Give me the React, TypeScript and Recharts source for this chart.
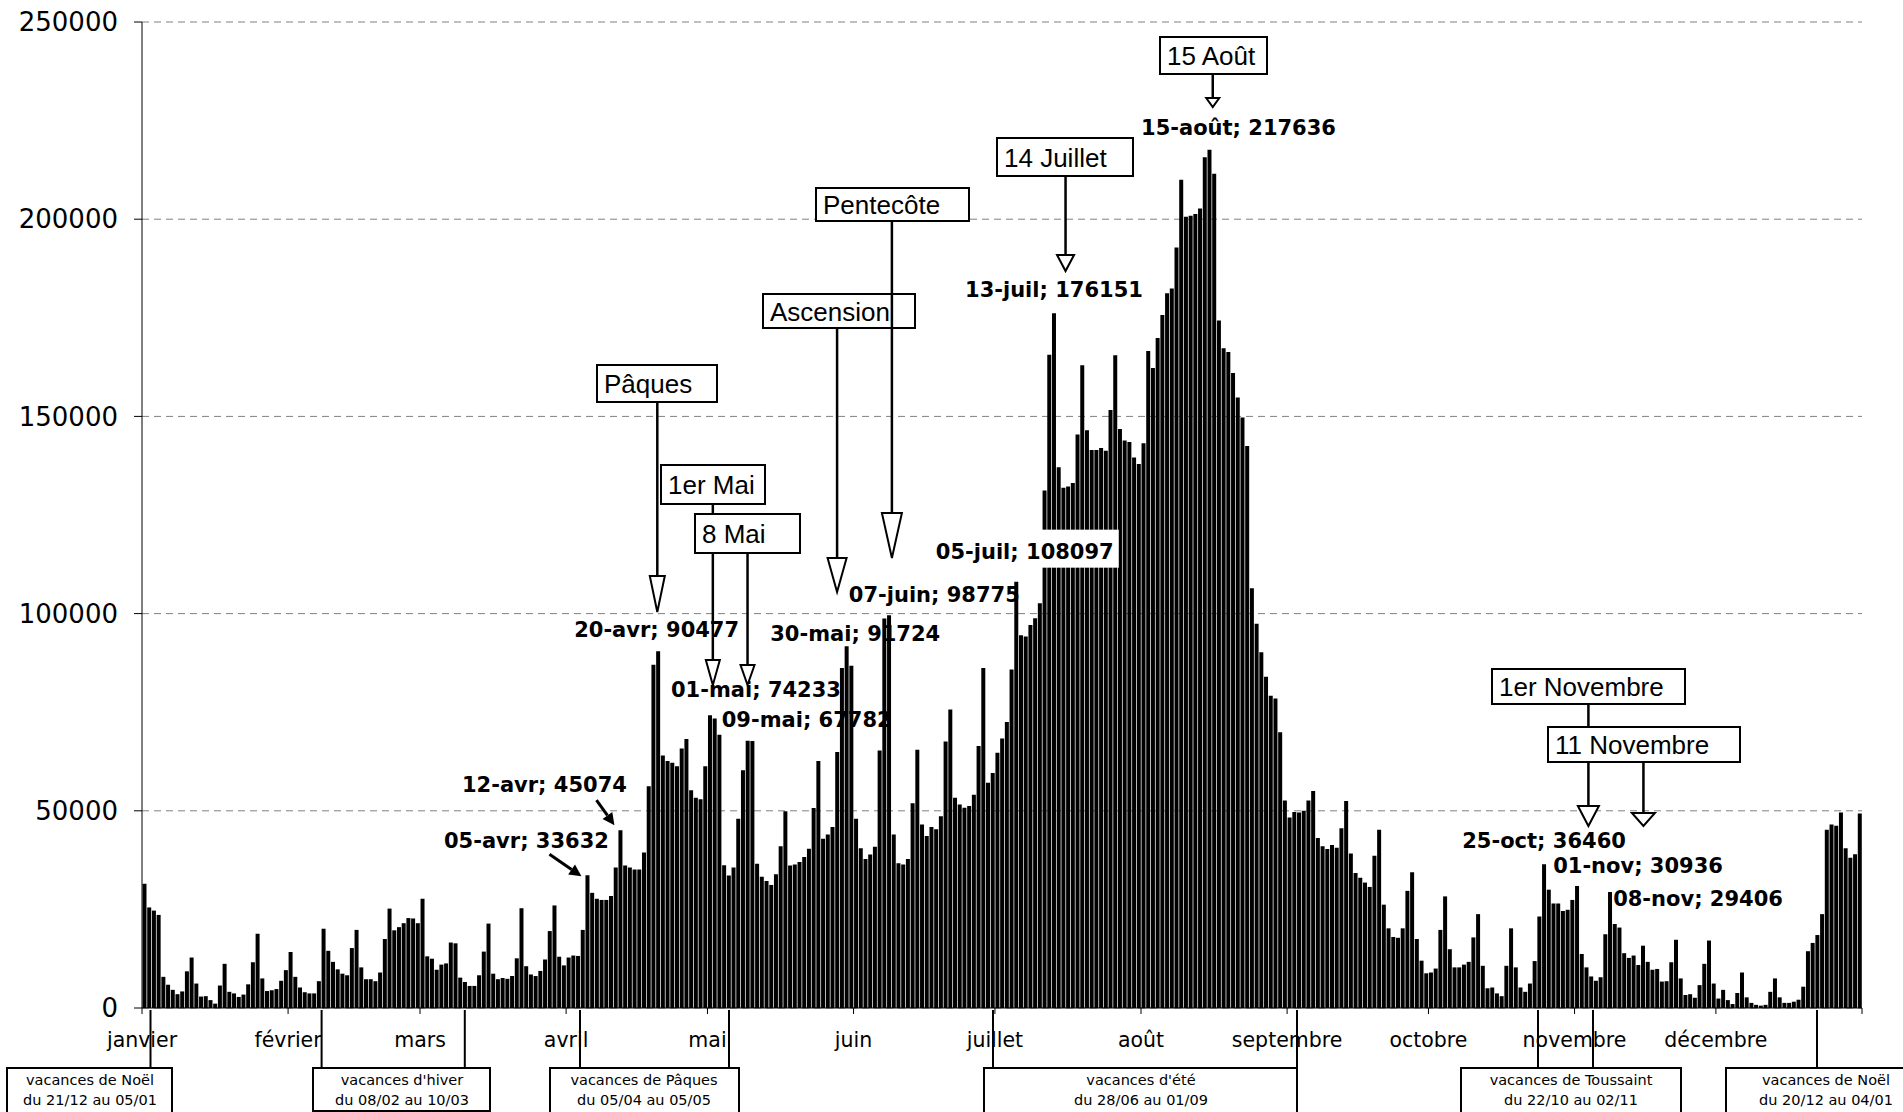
import React from 'react';
import { BarChart, Bar, XAxis, YAxis, CartesianGrid, LabelList } from 'recharts';

// fréquentation journalière (un tableau par mois)
const jan = [31500, 25500, 24700, 23600, 7900, 5900, 4600, 3500, 4200, 9300, 12800, 6200, 2900, 3000, 2000, 1100, 5700, 11200, 4100, 3700, 2800, 3400, 6000, 11600, 18800, 7500, 4300, 4500, 4800, 6900, 9600];
const feb = [14200, 7900, 5200, 4000, 3700, 3700, 6800, 20100, 14500, 11700, 9800, 8700, 8300, 15200, 19800, 10300, 7300, 7300, 6800, 9000, 17500, 25200, 19700, 20500, 21500, 22800, 22700, 21500];
const mar = [27700, 13100, 12500, 9700, 11000, 11300, 16600, 16400, 7700, 6600, 5600, 5600, 8300, 14300, 21400, 8700, 7300, 7600, 7400, 8100, 12600, 25300, 10600, 8500, 8100, 9400, 12300, 19500, 26000, 13000, 10800];
const apr = [12800, 13300, 13200, 19800, 33632, 29200, 27700, 27400, 27400, 28400, 35600, 45074, 36100, 35600, 35100, 35100, 39400, 56200, 87000, 90477, 64000, 62600, 62200, 61300, 65800, 68200, 55200, 53300, 52900, 61300];
const may = [74233, 73400, 69300, 36200, 33600, 35600, 48000, 60300, 67782, 67700, 36600, 33300, 32200, 31200, 33900, 41000, 49900, 36100, 36400, 37000, 38300, 40400, 50700, 62600, 42900, 44000, 45900, 64900, 86200, 91724, 86800];
const jun = [48000, 40500, 37800, 38900, 40900, 65300, 98775, 99600, 44000, 36700, 36400, 37800, 51900, 65500, 46500, 43600, 45900, 45300, 48600, 67600, 75700, 53300, 51600, 50800, 51200, 54100, 66400, 86200, 57100, 59600];
const jul = [64700, 68300, 72500, 85800, 108097, 94500, 94200, 97100, 98800, 102600, 131200, 165600, 176151, 137100, 131900, 132200, 133100, 145400, 163000, 146500, 141500, 141500, 142000, 141300, 151600, 165500, 146800, 143900, 143500, 139600, 137900];
const aug = [143200, 166600, 162300, 169900, 175700, 181200, 182400, 192800, 210000, 200600, 200900, 201300, 202700, 215700, 217636, 211500, 174300, 167300, 166300, 161000, 154800, 149700, 142500, 106400, 97400, 90200, 84000, 79200, 78500, 69900, 52600];
const sep = [48300, 49700, 49600, 50000, 52600, 55000, 43100, 41000, 40300, 41300, 40600, 45600, 52500, 39200, 34200, 33000, 31800, 30700, 38600, 45200, 26200, 20200, 18000, 17800, 20200, 29700, 34400, 17500, 12000, 8800];
const oct = [9000, 10000, 19800, 28300, 14900, 10300, 10300, 11000, 11700, 17900, 23800, 10700, 5000, 5200, 3700, 3000, 10700, 20200, 10300, 5200, 4100, 6200, 11900, 23200, 36460, 30000, 26500, 26500, 24600, 24900, 27400];
const nov = [30936, 13700, 10300, 8000, 6900, 7800, 18700, 29406, 21300, 20400, 13900, 12700, 13300, 10900, 15800, 11700, 9700, 9900, 6700, 6800, 11600, 17300, 7500, 3300, 3500, 2600, 5800, 11200, 17100, 6200];
const dec = [2400, 4600, 2000, 1000, 3800, 9000, 2700, 1300, 800, 600, 800, 4100, 7500, 2700, 1300, 1300, 1600, 2100, 5400, 14400, 16500, 18500, 23800, 45200, 46500, 46200, 49600, 40500, 38100, 39000, 49300];

const months = ['janvier', 'février', 'mars', 'avril', 'mai', 'juin', 'juillet', 'août', 'septembre', 'octobre', 'novembre', 'décembre'];
const monthShort = ['janv', 'févr', 'mars', 'avr', 'mai', 'juin', 'juil', 'août', 'sept', 'oct', 'nov', 'déc'];
const yTicks = [0, 50000, 100000, 150000, 200000, 250000];

const holidays = ['Pâques', '1er Mai', '8 Mai', 'Ascension', 'Pentecôte', '14 Juillet', '15 Août', '1er Novembre', '11 Novembre'];
const holidayDays = [110, 121, 129, 149, 159, 195, 227, 305, 315];

const vacationNames = ['vacances de Noël', "vacances d'hiver", 'vacances de Pâques', "vacances d'été", 'vacances de Toussaint', 'vacances de Noël'];
const vacationDates = ['du 21/12 au 05/01', 'du 08/02 au 10/03', 'du 05/04 au 05/05', 'du 28/06 au 01/09', 'du 22/10 au 02/11', 'du 20/12 au 04/01'];

const monthly = [jan, feb, mar, apr, may, jun, jul, aug, sep, oct, nov, dec];
const visits = monthly.flat();
const dateLabels: string[] = [];
const monthStarts: number[] = [];
monthly.forEach((m, mi) => {
  monthStarts.push(dateLabels.length + 1);
  m.forEach((_, d) => dateLabels.push(`${String(d + 1).padStart(2, '0')}-${monthShort[mi]}`));
});
const data = visits.map((v, i) => ({ day: i + 1, date: dateLabels[i], v }));

// mise en page
const W = 1903;
const H = 1112;
const MARGIN = { top: 22, right: 41, bottom: 44, left: 22 };
const YAXIS_W = 120;
const XAXIS_H = 60;
const PL = MARGIN.left + YAXIS_W;
const PR = W - MARGIN.right;
const PB = H - MARGIN.bottom - XAXIS_H;
const BAND = (PR - PL) / visits.length;
const dayCenter = (day: number) => PL + (day - 0.5) * BAND;

// étiquettes : jour -> placement par rapport au sommet de la barre
const labelPlacement: Record<number, { dx: number; dy: number; arrow?: number[]; boxed?: boolean }> = {
  95: { dx: -61, dy: -27, arrow: [-38, -21, -6, 1] },
  102: { dx: -76, dy: -38.5, arrow: [-24, -30, -6, -5] },
  110: { dx: -1.5, dy: -14.5 },
  121: { dx: 46, dy: -18.5 },
  129: { dx: 59, dy: -14 },
  150: { dx: 8.6, dy: -5.5 },
  158: { dx: 50, dy: -16.7 },
  186: { dx: 8.5, dy: -23, boxed: true },
  194: { dx: 0, dy: -16.6 },
  227: { dx: 29, dy: -14.7 },
  298: { dx: 0, dy: -16 },
  305: { dx: 61, dy: -13 },
  312: { dx: 88, dy: 14 },
};

// cadres des fêtes : [x0, y0, x1, y1], décalage de la flèche, triangle [haut, pointe, largeur]
const holidayLayout = [
  { box: [597, 365, 717, 402], dx: -0.7, tri: [576, 612, 15] },
  { box: [661, 465, 765, 504], dx: 3, tri: [660, 685, 14] },
  { box: [695, 514, 800, 553], dx: 0, tri: [665, 685, 14] },
  { box: [763, 294, 915, 328], dx: -4.7, tri: [558, 592, 19] },
  { box: [816, 188, 969, 221], dx: 3, tri: [513, 558, 20] },
  { box: [997, 138, 1133, 176], dx: 7, tri: [255, 271, 17] },
  { box: [1160, 37, 1267, 74], dx: 3.4, tri: [98, 107, 13] },
  { box: [1492, 669, 1685, 704], dx: 11.5, tri: [806, 826, 21] },
  { box: [1548, 727, 1740, 762], dx: 19.4, tri: [813, 826, 23] },
];

// cadres des vacances : [x0, x1, hauteur] et traits verticaux
const vacationLayout = [
  { box: [7, 172, 50], lines: [150.5], tx: 90 },
  { box: [313, 490, 43], lines: [321.6, 464.8], tx: 402 },
  { box: [550, 739, 50], lines: [580, 729], tx: 644 },
  { box: [984, 1297, 50], lines: [993, 1297], tx: 1141 },
  { box: [1461, 1681, 50], lines: [1538, 1593], tx: 1571 },
  { box: [1726, 1912, 50], lines: [1817], tx: 1826 },
];

function headPoints(x1: number, y1: number, x2: number, y2: number, len = 12, half = 6) {
  const L = Math.hypot(x2 - x1, y2 - y1);
  const ux = (x2 - x1) / L;
  const uy = (y2 - y1) / L;
  const bx = x2 - ux * len;
  const by = y2 - uy * len;
  return { pts: `${x2},${y2} ${bx - uy * half},${by + ux * half} ${bx + uy * half},${by - ux * half}`, bx, by };
}

function DataLabel(props: any) {
  const day = props.value as number;
  const p = labelPlacement[day];
  if (!p) return null;
  const vb = props.viewBox || props;
  const cx = vb.x + vb.width / 2;
  const top = vb.y;
  const text = `${dateLabels[day - 1]}; ${visits[day - 1]}`;
  let arrow = null;
  if (p.arrow) {
    const [ax1, ay1, ax2, ay2] = p.arrow;
    const h = headPoints(cx + ax1, top + ay1, cx + ax2, top + ay2);
    arrow = (
      <g>
        <line x1={cx + ax1} y1={top + ay1} x2={h.bx} y2={h.by} stroke="#000" strokeWidth={3} />
        <polygon points={h.pts} fill="#000" />
      </g>
    );
  }
  return (
    <g>
      {p.boxed && <rect x={cx + p.dx - 94} y={top + p.dy - 29} width={188} height={38} fill="#fff" />}
      <text x={cx + p.dx} y={top + p.dy} textAnchor="middle" fontFamily="DejaVu Sans" fontWeight="bold" fontSize={21} fill="#000">
        {text}
      </text>
      {arrow}
    </g>
  );
}

function MonthTick(props: any) {
  const { x, payload } = props;
  const day = payload.value as number;
  const m = monthStarts.indexOf(day);
  const left = x - BAND / 2;
  return (
    <g>
      {m >= 0 && <line x1={left} x2={left} y1={PB} y2={PB + 6} stroke="#000" />}
      {m >= 0 && (
        <text x={left} y={PB + 39} textAnchor="middle" fontFamily="DejaVu Sans" fontSize={20.5} fill="#000">
          {months[m]}
        </text>
      )}
      {day === visits.length && <line x1={x + BAND / 2} x2={x + BAND / 2} y1={PB} y2={PB + 6} stroke="#000" />}
    </g>
  );
}

function Annotations() {
  return (
    <svg width={W} height={H} style={{ position: 'absolute', left: 0, top: 0, pointerEvents: 'none' }}>
      {holidays.map((name, i) => {
        const l = holidayLayout[i];
        const [x0, y0, x1, y1] = l.box;
        const ax = dayCenter(holidayDays[i]) + l.dx;
        return (
          <g key={name}>
            <line x1={ax} x2={ax} y1={y1} y2={l.tri[0]} stroke="#000" strokeWidth={2.5} />
            <rect x={x0} y={y0} width={x1 - x0} height={y1 - y0} fill="#fff" stroke="#000" strokeWidth={2} />
            <text x={x0 + 7} y={(y0 + y1) / 2 + 9.5} fontFamily="Liberation Sans" fontSize={26} fill="#000">
              {name}
            </text>
          </g>
        );
      })}
      {holidays.map((name, i) => {
        const l = holidayLayout[i];
        const ax = dayCenter(holidayDays[i]) + l.dx;
        const [t, tip, w] = l.tri;
        return (
          <polygon
            key={`t-${name}`}
            points={`${ax - w / 2},${t} ${ax + w / 2},${t} ${ax},${tip}`}
            fill="#fff"
            stroke="#000"
            strokeWidth={2}
          />
        );
      })}
      {vacationNames.map((name, i) => {
        const l = vacationLayout[i];
        const [x0, x1, h] = l.box;
        return (
          <g key={`v-${i}`}>
            {l.lines.map((lx) => (
              <line key={lx} x1={lx} x2={lx} y1={PB + 2} y2={1068} stroke="#000" strokeWidth={2} />
            ))}
            <rect x={x0} y={1068} width={x1 - x0} height={h} fill="#fff" stroke="#000" strokeWidth={2} />
            <text x={l.tx} y={1085} textAnchor="middle" fontFamily="DejaVu Sans" fontSize={14.5} fill="#000">
              {name}
            </text>
            <text x={l.tx} y={1105} textAnchor="middle" fontFamily="DejaVu Sans" fontSize={14.5} fill="#000">
              {vacationDates[i]}
            </text>
          </g>
        );
      })}
    </svg>
  );
}

export default function App() {
  return (
    <div style={{ position: 'absolute', left: 0, top: 0, width: W, height: H, background: '#fff', overflow: 'hidden' }}>
      <BarChart width={W} height={H} data={data} margin={MARGIN} barCategoryGap={0.5}>
        <CartesianGrid vertical={false} stroke="#808080" strokeDasharray="7 5" />
        <XAxis
          dataKey="day"
          type="category"
          interval={0}
          height={XAXIS_H}
          tickLine={false}
          axisLine={{ stroke: '#000' }}
          tick={<MonthTick />}
        />
        <YAxis
          type="number"
          domain={[0, 250000]}
          ticks={yTicks}
          width={YAXIS_W}
          interval={0}
          tickSize={8}
          tickMargin={16}
          tickLine={{ stroke: '#000' }}
          axisLine={{ stroke: '#000' }}
          tickFormatter={(v) => String(v)}
          tick={{ fontFamily: 'DejaVu Sans', fontSize: 26, fill: '#000' }}
        />
        <Bar dataKey="v" fill="#000" isAnimationActive={false}>
          <LabelList dataKey="day" content={<DataLabel />} />
        </Bar>
      </BarChart>
      <Annotations />
    </div>
  );
}
